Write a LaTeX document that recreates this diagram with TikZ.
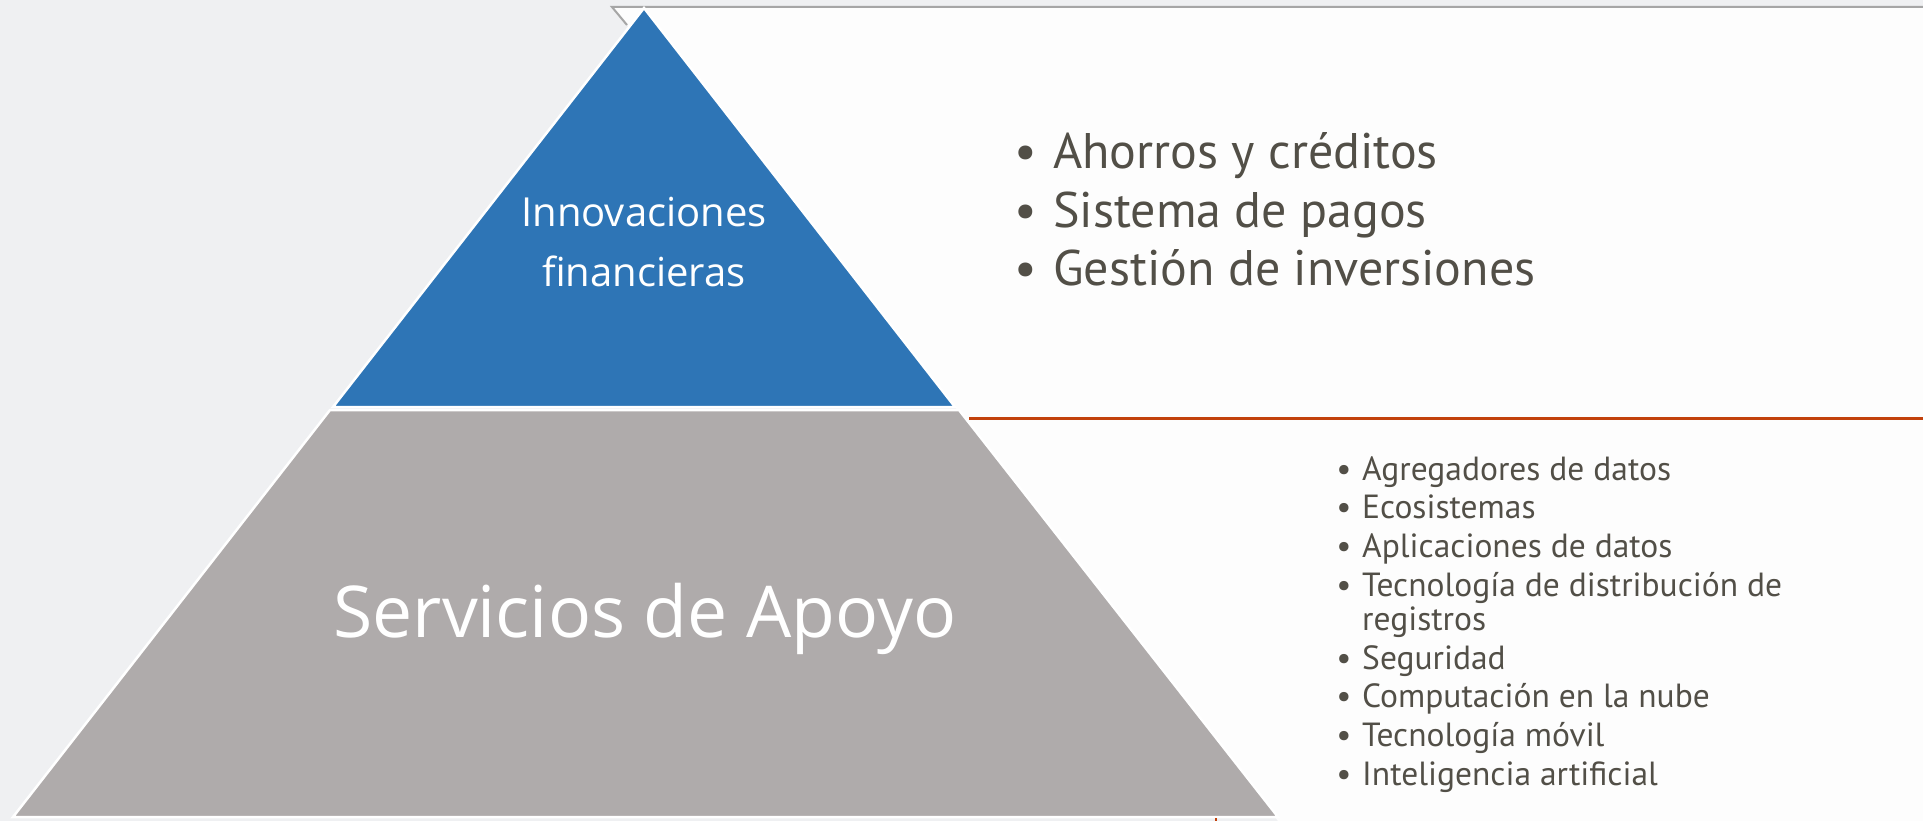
\documentclass[tikz,border=0pt]{standalone}
\usepackage{fontspec}
\setmainfont{PT Sans}
\newfontfamily\pyrfont{Open Sans}
\definecolor{bgleft}{HTML}{EFF0F2}
\definecolor{panel}{HTML}{FDFDFD}
\definecolor{pyrblue}{HTML}{2E75B6}
\definecolor{pyrgray}{HTML}{AFABAB}
\definecolor{txtgray}{HTML}{524F47}
\definecolor{rule}{HTML}{C2410C}
\definecolor{frame}{HTML}{A6A6A6}
\tikzset{
  layer/.style={draw=white, line width=2.5pt, line join=miter},
  pyrtext/.style={font=\pyrfont, text=white, inner sep=0pt, anchor=base},
  bigitem/.style={font=\fontsize{50}{54}\selectfont, text=txtgray, inner sep=0pt, anchor=base west},
  bigdot/.style={font=\fontsize{50}{54}\selectfont, text=txtgray, inner sep=0pt, anchor=base},
  smallitem/.style={font=\fontsize{33.5}{36}\selectfont, text=txtgray, inner sep=0pt, anchor=base west},
  smalldot/.style={font=\fontsize{33.5}{36}\selectfont, text=txtgray, inner sep=0pt, anchor=base},
}
\begin{document}
\begin{tikzpicture}[x=1pt,y=-1pt]
\useasboundingbox (0,0) rectangle (1923,821);
% background
\fill[bgleft] (0,0) rectangle (1923,821);
\fill[panel] (612,7) -- (1923,7) -- (1923,821) -- (1278,821) -- (955,407) -- cycle;
\draw[frame, line width=2pt] (627,25) -- (612,7) -- (1923,7);
% pyramid
\coordinate (apex) at (644,8);
\coordinate (bl) at (333,407);
\coordinate (br) at (955,407);
\coordinate (gtl) at (330,410);
\coordinate (gtr) at (959,410);
\coordinate (gbr) at (1278,817);
\coordinate (gbl) at (13,817);
\filldraw[layer, fill=pyrgray] (gtl) -- (gtr) -- (gbr) -- (gbl) -- cycle;
\filldraw[layer, fill=pyrblue] (apex) -- (br) -- (bl) -- cycle;
% rule
\coordinate (rs) at (969,418);
\coordinate (re) at (1923,418);
\draw[rule, line width=3pt] (rs) -- (re);
\coordinate (ts) at (1216,818);
\coordinate (te) at (1216,821);
\draw[rule, line width=2pt] (ts) -- (te);
% pyramid texts
\node[pyrtext, font=\pyrfont\fontsize{40}{44}\selectfont] (inn1) at (644,227) {Innovaciones};
\node[pyrtext, font=\pyrfont\fontsize{40}{44}\selectfont] (inn2) at (644,287) {financieras};
\node[pyrtext, font=\pyrfont\fontsize{71.5}{75}\selectfont] (serv) at (645,637) {Servicios de Apoyo};
% upper list
\node[bigdot] (ud1) at (1026,169) {•};
\node[bigitem] (u1) at (1053,169) {Ahorros y créditos};
\node[bigdot] (ud2) at (1026,228) {•};
\node[bigitem] (u2) at (1053,228) {Sistema de pagos};
\node[bigdot] (ud3) at (1026,286) {•};
\node[bigitem] (u3) at (1053,286) {Gestión de inversiones};
% lower list
\node[smalldot] (ld1) at (1344,480) {•};
\node[smallitem] (l1) at (1362,480) {Agregadores de datos};
\node[smalldot] (ld2) at (1344,518) {•};
\node[smallitem] (l2) at (1362,518) {Ecosistemas};
\node[smalldot] (ld3) at (1344,557) {•};
\node[smallitem] (l3) at (1362,557) {Aplicaciones de datos};
\node[smalldot] (ld4) at (1344,596) {•};
\node[smallitem] (l4) at (1362,596) {Tecnología de distribución de};
\node[smallitem] (l4b) at (1362,630) {registros};
\node[smalldot] (ld5) at (1344,669) {•};
\node[smallitem] (l5) at (1362,669) {Seguridad};
\node[smalldot] (ld6) at (1344,707) {•};
\node[smallitem] (l6) at (1362,707) {Computación en la nube};
\node[smalldot] (ld7) at (1344,746) {•};
\node[smallitem] (l7) at (1362,746) {Tecnología móvil};
\node[smalldot] (ld8) at (1344,785) {•};
\node[smallitem] (l8) at (1362,785) {Inteligencia artificial};
\end{tikzpicture}
\end{document}
